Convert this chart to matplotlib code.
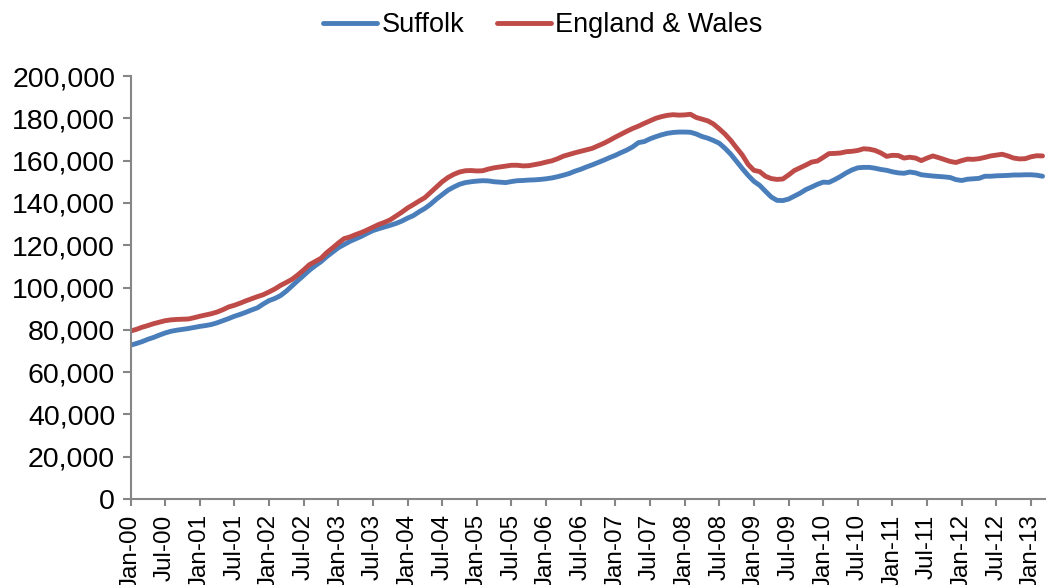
import matplotlib
matplotlib.use("Agg")
import matplotlib.pyplot as plt
from matplotlib.ticker import FuncFormatter

# Monthly series, Jan-2000 .. Mar-2013 (index 0 = Jan-00)
suffolk = [
    72.7, 73.5, 74.4, 75.5, 76.4, 77.5, 78.5, 79.3, 79.8, 80.2, 80.6, 81.1,
    81.6, 82.0, 82.5, 83.3, 84.3, 85.3, 86.4, 87.3, 88.3, 89.4, 90.4, 92.2,
    93.8, 94.8, 96.2, 98.3, 100.8, 103.3, 105.7, 108.2, 110.3, 112.2, 114.6, 116.7,
    118.8, 120.3, 121.8, 123.0, 124.2, 125.6, 126.9, 127.8, 128.6, 129.4, 130.3, 131.4,
    132.8, 134.0, 135.8, 137.4, 139.4, 141.8, 143.9, 146.0, 147.5, 148.8, 149.6, 150.0,
    150.3, 150.5, 150.4, 150.0, 149.8, 149.6, 150.1, 150.5, 150.6, 150.8, 150.9, 151.1,
    151.4, 151.8, 152.4, 153.1, 153.9, 155.0, 155.9, 157.0, 158.0, 159.1, 160.2, 161.4,
    162.5, 163.8, 165.0, 166.5, 168.5, 169.0, 170.3, 171.3, 172.2, 172.9, 173.3, 173.5,
    173.5, 173.4, 172.6, 171.4, 170.6, 169.5, 168.2, 165.8, 163.0, 159.6, 156.2, 153.0,
    150.2, 148.3, 145.5, 142.8, 141.2, 141.1, 141.8, 143.2, 144.6, 146.3, 147.5, 148.8,
    149.8, 149.7, 151.0, 152.5, 154.2, 155.6, 156.6, 156.8, 156.8, 156.4, 155.8, 155.4,
    154.7, 154.2, 154.0, 154.6, 154.2, 153.3, 153.0, 152.7, 152.5, 152.3, 152.0, 151.0,
    150.6, 151.2, 151.4, 151.6, 152.6, 152.6, 152.8, 152.9, 153.0, 153.2, 153.2, 153.3,
    153.3, 153.1, 152.6,
]
england_wales = [
    79.4, 80.2, 81.2, 82.0, 82.9, 83.6, 84.3, 84.7, 84.9, 85.0, 85.1, 85.7,
    86.4, 87.0, 87.6, 88.4, 89.5, 90.8, 91.6, 92.6, 93.7, 94.7, 95.7, 96.6,
    97.9, 99.3, 101.0, 102.4, 103.9, 106.0, 108.3, 110.8, 112.3, 113.8, 116.5, 118.7,
    121.0, 123.1, 123.9, 125.0, 126.0, 127.2, 128.5, 129.8, 130.8, 132.0, 133.8, 135.6,
    137.6, 139.2, 140.9, 142.5, 145.0, 147.5, 150.0, 152.0, 153.5, 154.6, 155.2, 155.3,
    155.1, 155.2, 156.0, 156.6, 157.0, 157.4, 157.8, 157.8, 157.5, 157.6, 158.1, 158.6,
    159.3, 159.9, 160.9, 162.1, 162.9, 163.7, 164.4, 165.1, 165.8, 167.0, 168.2, 169.6,
    171.1, 172.5, 173.9, 175.2, 176.3, 177.6, 178.8, 180.0, 180.8, 181.4, 181.7, 181.5,
    181.6, 181.9, 180.4, 179.6, 178.8, 177.3, 175.0, 172.5, 169.5, 166.0, 162.6, 158.2,
    155.4, 154.8, 152.6, 151.5, 151.1, 151.3, 153.2, 155.3, 156.6, 157.9, 159.3, 159.8,
    161.5, 163.3, 163.4, 163.6, 164.2, 164.4, 164.8, 165.6, 165.4, 164.8, 163.6, 162.0,
    162.5, 162.4, 161.2, 161.6, 161.2, 160.0, 161.2, 162.2, 161.4, 160.5, 159.6, 159.1,
    160.0, 160.7, 160.6, 160.9, 161.5, 162.2, 162.6, 163.0, 162.2, 161.2, 160.8, 160.9,
    161.8, 162.3, 162.2,
]
tick_labels = [
    "Jan-00", "Jul-00", "Jan-01", "Jul-01", "Jan-02", "Jul-02", "Jan-03", "Jul-03",
    "Jan-04", "Jul-04", "Jan-05", "Jul-05", "Jan-06", "Jul-06", "Jan-07", "Jul-07",
    "Jan-08", "Jul-08", "Jan-09", "Jul-09", "Jan-10", "Jul-10", "Jan-11", "Jul-11",
    "Jan-12", "Jul-12", "Jan-13",
]
series_names = ["Suffolk", "England & Wales"]
y_ticks = [0, 20000, 40000, 60000, 80000, 100000, 120000, 140000, 160000, 180000, 200000]

plt.rcParams['font.family'] = ['Liberation Sans', 'DejaVu Sans']

fig = plt.figure(figsize=(10.46, 5.85), dpi=100)
ax = fig.add_axes([130.5 / 1046, 1 - 499 / 585, 1 - 130.5 / 1046, (499 - 76) / 585])

x = list(range(len(suffolk)))
ax.plot(x, [v * 1000 for v in suffolk], color='#4A7EBB', lw=3.5,
        label=series_names[0], solid_capstyle='round', solid_joinstyle='round')
ax.plot(x, [v * 1000 for v in england_wales], color='#BE4B48', lw=3.5,
        label=series_names[1], solid_capstyle='round', solid_joinstyle='round')

ax.set_xlim(0, 158.6)
ax.set_ylim(0, 200000)
ax.set_yticks(y_ticks)
ax.yaxis.set_major_formatter(FuncFormatter(lambda v, p: f"{int(v):,}"))
ax.set_xticks([6 * i for i in range(len(tick_labels))])
ax.set_xticklabels(tick_labels, rotation=90)

for s in ['top', 'right']:
    ax.spines[s].set_visible(False)
for s in ['left', 'bottom']:
    ax.spines[s].set_color('#868686')
    ax.spines[s].set_linewidth(1.5)

ax.tick_params(axis='y', direction='out', length=6, width=1.5, color='#868686',
               labelsize=20.5, pad=5)
ax.tick_params(axis='x', direction='out', length=5, width=1.5, color='#868686',
               labelsize=17.5, pad=6)

leg = fig.legend(loc='center', bbox_to_anchor=(0.519, 1 - 25 / 585), ncol=2,
                 frameon=False, fontsize=19.5, handlelength=2.0, handletextpad=0.15,
                 columnspacing=1.2)

fig.savefig('out.png', dpi=100)
